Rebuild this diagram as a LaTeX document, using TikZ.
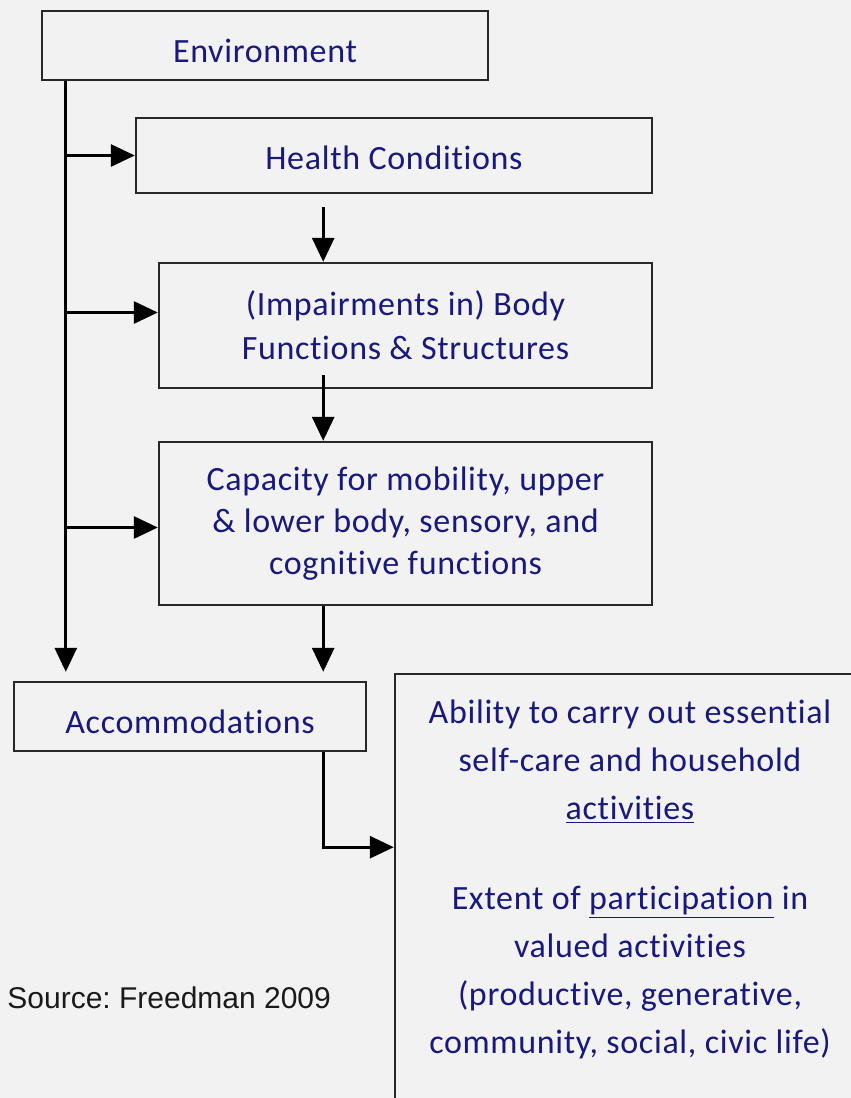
\documentclass[tikz,border=0pt]{standalone}
\usepackage{fontspec}
\setmainfont{Carlito}[Ligatures=NoCommon, LetterSpace=2]
\newfontfamily\srcfont{Liberation Sans}
\usetikzlibrary{arrows.meta}
\definecolor{pagebg}{RGB}{242,242,242}
\definecolor{boxtext}{RGB}{25,25,125}
\definecolor{boxline}{RGB}{40,40,40}
\definecolor{srctext}{RGB}{26,26,26}

\begin{document}
\begin{tikzpicture}[x=0.5pt, y=-0.5pt,
  box/.style = {draw=boxline, line width=1.2pt, rectangle, align=center,
    inner sep=0pt, text=boxtext, font=\fontsize{17}{21}\selectfont},
  lowtext/.style = {text height=#1, text depth=0pt},
  arr/.style = {line width=1.5pt, -{Triangle[length=12pt, width=11pt]}}]
  \useasboundingbox (0,0) rectangle (851,1098);
  \fill[pagebg] (0,0) rectangle (851,1098);

  \node[box, lowtext=16.5pt, minimum width=223pt, minimum height=34.5pt] (env) at (265,45.5) {Environment};
  \node[box, lowtext=13.5pt, minimum width=258pt, minimum height=37.5pt] (health) at (394,155.5) {Health Conditions};
  \node[box, minimum width=246.5pt, minimum height=62.5pt, font=\fontsize{17}{22}\selectfont]
    (body) at (405.5,325.5) {(Impairments in) Body\\ Functions \& Structures};
  \node[box, minimum width=246.5pt, minimum height=81.5pt] (cap) at (405.5,523.5)
    {Capacity for mobility, upper\\ \& lower body, sensory, and\\ cognitive functions};
  \node[box, lowtext=16.5pt, minimum width=176pt, minimum height=34.5pt] (acc) at (190,716.5) {Accommodations};
  \node[box, minimum width=235pt, minimum height=213pt, text depth=10.5pt,
    font=\fontsize{17}{24}\selectfont]
    (big) at (630,887) {Ability to carry out essential\\ self-care and household\\
    \underline{activities}\\[21pt] Extent of \underline{participation} in\\ valued activities\\
    (productive, generative,\\ community, social, civic life)};
  \node[anchor=west, inner sep=0pt, text=srctext, font=\srcfont\fontsize{15}{18}\selectfont]
    (src) at (7,998) {Source:\ Freedman 2009};

  % trunk on the left, spine in the middle
  \coordinate (trunk) at ([xshift=12.5pt]env.south west);
  \coordinate (spine) at ([xshift=-22pt]acc.south east);
  \coordinate (bend) at ([yshift=-47.5pt]spine);

  \draw[arr] (trunk) -- ([yshift=4.5pt]acc.north -| trunk);
  \draw[arr] (health.west -| trunk) -- (health.west);
  \draw[arr] ([yshift=6.5pt]body.west -| trunk) -- ([yshift=6.5pt]body.west);
  \draw[arr] ([yshift=-2pt]cap.west -| trunk) -- ([yshift=-2pt]cap.west);
  \draw[arr] ([yshift=-6.5pt]health.south -| spine) -- (body.north -| spine);
  \draw[arr] ([yshift=7pt]body.south -| spine) -- (cap.north -| spine);
  \draw[arr] (cap.south -| spine) -- ([yshift=4.5pt]acc.north -| spine);
  \draw[arr] (spine) -- (bend) -- (bend -| big.west);
\end{tikzpicture}
\end{document}
